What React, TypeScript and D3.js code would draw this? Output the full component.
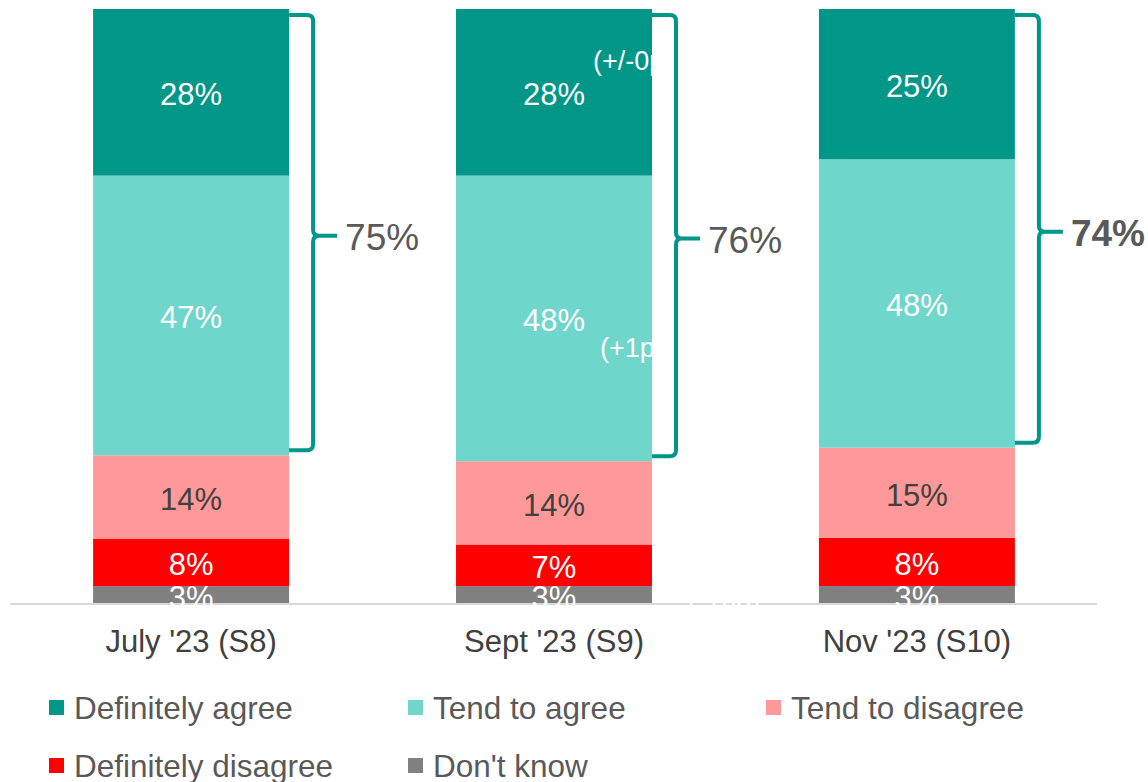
import React from "react";
import * as d3 from "d3";

const categories = ["July '23 (S8)", "Sept '23 (S9)", "Nov '23 (S10)"];
const seriesNames = ["Definitely agree", "Tend to agree", "Tend to disagree", "Definitely disagree", "Don't know"];
const definitelyAgree = [28, 28, 25];
const tendToAgree = [47, 48, 48];
const tendToDisagree = [14, 14, 15];
const definitelyDisagree = [8, 7, 8];
const dontKnow = [3, 3, 3];
const netAgree = ["75%", "76%", "74%"];
const colors = ["#009688", "#6fd6cc", "#ff9999", "#ff0000", "#808080"];
const labelColors = ["#ffffff", "#ffffff", "#404040", "#ffffff", "#ffffff"];

const W = 1148;
const H = 782;
const FONT = "'Liberation Sans', Arial, sans-serif";

export default function App() {
  const rows = categories.map((c, i) => ({
    cat: c,
    "Don't know": dontKnow[i],
    "Definitely disagree": definitelyDisagree[i],
    "Tend to disagree": tendToDisagree[i],
    "Tend to agree": tendToAgree[i],
    "Definitely agree": definitelyAgree[i],
  }));
  const stackKeys = ["Don't know", "Definitely disagree", "Tend to disagree", "Tend to agree", "Definitely agree"];
  const stacked = d3.stack<any>().keys(stackKeys).offset(d3.stackOffsetExpand)(rows);

  const x = d3.scaleBand().domain(categories).range([10, 1098]).paddingInner(0.46).paddingOuter(0.229);
  const y = d3.scaleLinear().domain([0, 1]).range([604, 9]);
  const bw = x.bandwidth();

  const colorOf = (k: string) => colors[seriesNames.indexOf(k)];
  const labelColorOf = (k: string) => labelColors[seriesNames.indexOf(k)];

  const legendPos = [
    [49, 708], [408, 708], [766, 708], [49, 766], [408, 766],
  ];

  return (
    <svg width={W} height={H} style={{ position: "absolute", left: 0, top: 0, background: "#fff" }} fontFamily={FONT}>
      <defs>
        {categories.map((c, i) => (
          <clipPath id={`clip${i}`} key={c}>
            <rect x={x(c)} y={y(1)} width={bw} height={y(0) - y(1)} />
          </clipPath>
        ))}
      </defs>
      {stacked.map((s) => (
        <g key={s.key}>
          {s.map((d, i) => (
            <rect key={i} x={x(categories[i])} y={y(d[1])} width={bw} height={y(d[0]) - y(d[1])} fill={colorOf(s.key)} />
          ))}
        </g>
      ))}
      <line x1={10} x2={1097} y1={604} y2={604} stroke="#d9d9d9" strokeWidth={2} />
      {stacked.map((s) => (
        <g key={s.key + "l"}>
          {s.map((d, i) => {
            const v = (d.data as any)[s.key];
            return (
              <text key={i} x={x(categories[i])! + bw / 2} y={(y(d[0]) + y(d[1])) / 2 + 13} textAnchor="middle" fontSize={31} fill={labelColorOf(s.key)}>
                {v}%
              </text>
            );
          })}
        </g>
      ))}
      {/* clipped annotations in Sept bar */}
      <g clipPath="url(#clip1)">
        <text x={593} y={70} fontSize={27} fill="#ffffff">(+/-0pp)</text>
        <text x={600} y={357} fontSize={27} fill="#ffffff">(+1pp)</text>
      </g>
      <text x={688} y={614} fontSize={27} fill="#ffffff">(-1pp)</text>
      {/* brackets */}
      {categories.map((c, i) => {
        const s3 = stacked[2][i];
        const x0 = x(c)! + bw;
        const top = y(1) + 6;
        const bot = y(s3[1]) - 5;
        const mid = (top + bot) / 2 + 3;
        const xv = x0 + 24;
        const r = 6;
        const path = `M${x0},${top} L${xv - r},${top} Q${xv},${top} ${xv},${top + r} L${xv},${mid - 6} Q${xv},${mid} ${xv + 6},${mid} L${xv + 24},${mid} M${xv + 6},${mid} Q${xv},${mid} ${xv},${mid + 6} L${xv},${bot - r} Q${xv},${bot} ${xv - r},${bot} L${x0},${bot}`;
        return (
          <g key={c + "b"}>
            <path d={path} fill="none" stroke="#009688" strokeWidth={4} />
            <text x={xv + 32} y={mid + 14} fontSize={37} fill="#595959" fontWeight={i === 2 ? "bold" : "normal"}>
              {netAgree[i]}
            </text>
          </g>
        );
      })}
      {categories.map((c) => (
        <text key={c + "x"} x={x(c)! + bw / 2} y={652} textAnchor="middle" fontSize={31} fill="#404040">
          {c}
        </text>
      ))}
      {seriesNames.map((n, i) => (
        <g key={n}>
          <rect x={legendPos[i][0]} y={legendPos[i][1] - 8} width={15} height={15} fill={colors[i]} />
          <text x={legendPos[i][0] + 25} y={legendPos[i][1] + 11} fontSize={31.5} fill="#595959">
            {n}
          </text>
        </g>
      ))}
    </svg>
  );
}
